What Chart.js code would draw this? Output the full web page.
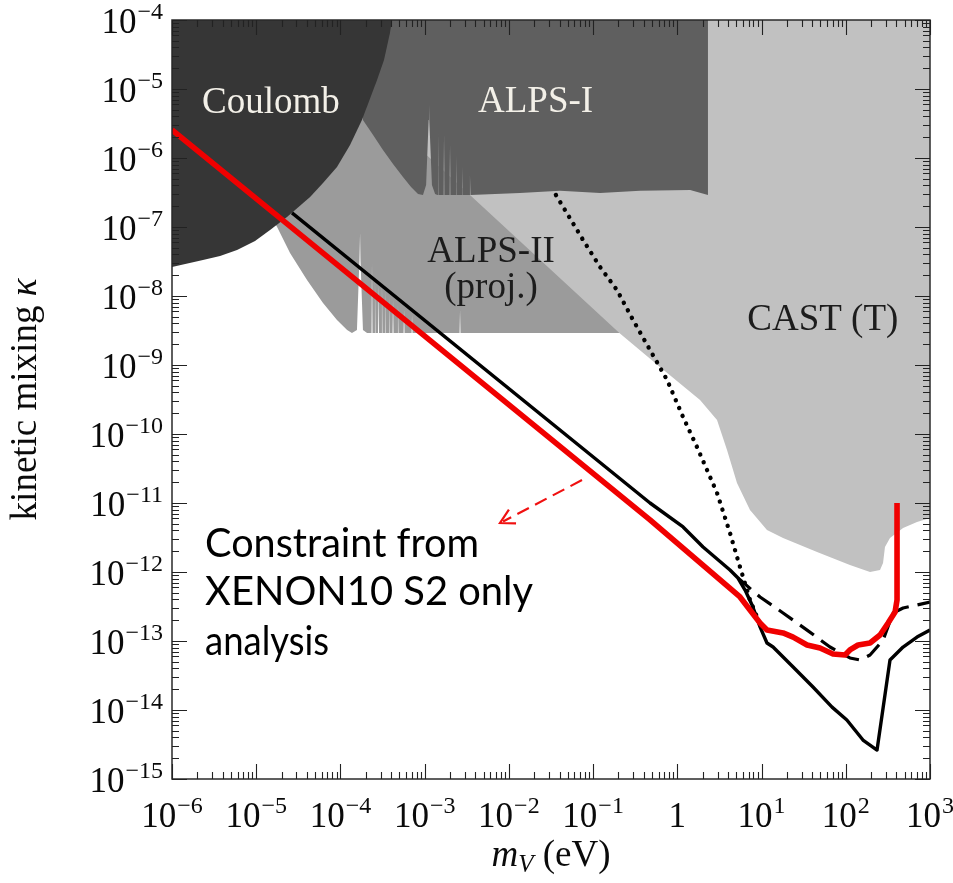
<!DOCTYPE html>
<html>
<head>
<meta charset="utf-8">
<script src="https://cdn.jsdelivr.net/npm/chart.js@4.4.1/dist/chart.umd.min.js"></script>
<style>
  html, body { margin: 0; padding: 0; background: #ffffff; }
  #wrap { width: 953px; height: 883px; }
</style>
</head>
<body>
<div id="wrap"><canvas id="c" width="953" height="883"></canvas></div>
<script>
// ---- axis ranges and tick labels ----
const massRange = [1e-6, 1e3];
const kappaRange = [1e-15, 1e-4];
const xTickValues = [1e-6, 1e-5, 1e-4, 1e-3, 1e-2, 1e-1, 1, 1e1, 1e2, 1e3];
const xTickLabels = ['10^−6', '10^−5', '10^−4', '10^−3', '10^−2', '10^−1', '1', '10^1', '10^2', '10^3'];
const yTickValues = [1e-15, 1e-14, 1e-13, 1e-12, 1e-11, 1e-10, 1e-9, 1e-8, 1e-7, 1e-6, 1e-5, 1e-4];
const yTickLabels = ['10^−15', '10^−14', '10^−13', '10^−12', '10^−11', '10^−10', '10^−9', '10^−8', '10^−7', '10^−6', '10^−5', '10^−4'];

// ---- excluded regions (closed outlines, m_V in eV, kappa) ----
const coulombMass  = [1e-6, 2.33e-6, 3.72e-6, 5.92e-6, 9.68e-6, 1.46e-5, 2.32e-5, 4.36e-5, 6.21e-5, 9.1e-5, 1.30e-4, 1.80e-4, 2.72e-4, 3.29e-4, 3.87e-4, 4.09e-4, 1e-6];
const coulombKappa = [2.63e-8, 3.33e-8, 3.80e-8, 4.65e-8, 6.27e-8, 9.06e-8, 1.40e-7, 2.72e-7, 4.35e-7, 7.41e-7, 1.54e-6, 3.56e-6, 1.35e-5, 2.63e-5, 6.49e-5, 1e-4, 1e-4];

const alps1Mass  = [1.71e-4, 1.85e-4, 2.44e-4, 3.20e-4, 4.21e-4, 5.53e-4, 6.89e-4, 8.34e-4, 9.55e-4, 1.04e-3, 1.115e-3, 1.125e-3, 1.135e-3, 1.22e-3, 1.33e-3,
                    1.419e-3, 1.439e-3, 1.459e-3, 1.675e-3, 1.698e-3, 1.721e-3, 1.973e-3, 2.0e-3, 2.028e-3, 2.323e-3, 2.355e-3, 2.388e-3,
                    2.735e-3, 2.773e-3, 2.811e-3, 3.403e-3, 3.45e-3, 3.498e-3, 1.35e-2, 4.05e-2, 0.121, 0.361, 1.42, 2.31, 2.31];
const alps1Kappa = [1e-4, 3.56e-6, 2.15e-6, 1.31e-6, 8.19e-7, 5.31e-7, 3.80e-7, 3.01e-7, 2.91e-7, 4.06e-7, 3.56e-6, 6.27e-6, 3.56e-6, 4.06e-7, 3.01e-7,
                    2.91e-7, 2.55e-6, 2.91e-7, 2.91e-7, 2.15e-6, 2.91e-7, 2.91e-7, 1.54e-6, 2.91e-7, 2.91e-7, 1.10e-6, 2.91e-7,
                    2.91e-7, 7.92e-7, 2.91e-7, 2.91e-7, 5.68e-7, 2.91e-7, 3.11e-7, 3.34e-7, 3.11e-7, 3.34e-7, 3.44e-7, 2.91e-7, 1e-4];

const alps2Mass  = [1.63e-5, 1.77e-5, 2.52e-5, 4.01e-5, 6.21e-5, 9.10e-5, 1.20e-4, 1.37e-4, 1.57e-4, 1.68e-4, 1.71e-4, 1.73e-4, 1.85e-4, 2.07e-4,
                    2.338e-4, 2.37e-4, 2.403e-4, 2.535e-4, 2.57e-4, 2.605e-4, 2.791e-4, 2.83e-4, 2.869e-4, 3.068e-4, 3.11e-4, 3.153e-4,
                    3.383e-4, 3.43e-4, 3.477e-4, 3.719e-4, 3.77e-4, 3.822e-4, 4.153e-4, 4.21e-4, 4.268e-4, 4.754e-4, 4.82e-4, 4.887e-4,
                    5.613e-4, 5.69e-4, 5.769e-4, 6.984e-4, 7.08e-4, 7.178e-4, 2.594e-3, 2.63e-3, 2.666e-3, 0.192, 0.361, 0.361, 3.31e-5];
const alps2Kappa = [1.18e-7, 1.0e-7, 4.20e-8, 1.71e-8, 7.93e-9, 4.49e-9, 3.21e-9, 2.91e-9, 3.21e-9, 3.33e-8, 8.18e-8, 3.33e-8, 3.21e-9, 2.91e-9,
                    2.91e-9, 3.01e-8, 2.91e-9, 2.91e-9, 1.71e-8, 2.91e-9, 2.91e-9, 1.44e-8, 2.91e-9, 2.91e-9, 1.54e-8, 2.91e-9,
                    2.91e-9, 1.22e-8, 2.91e-9, 2.91e-9, 1.03e-8, 2.91e-9, 2.91e-9, 8.75e-9, 2.91e-9, 2.91e-9, 7.41e-9, 2.91e-9,
                    2.91e-9, 6.27e-9, 2.91e-9, 2.91e-9, 5.31e-9, 2.91e-9, 2.91e-9, 6.27e-9, 2.91e-9, 2.91e-9, 2.91e-9, 6.93e-6, 6.93e-6];

const castMass  = [1.91e-5, 3.45e-3, 0.205, 0.622, 1.86, 2.96, 3.89, 5.11, 7.29, 11.6, 18.0, 45.6, 112, 194, 255, 277, 292, 335, 479, 701, 1000, 1000];
const castKappa = [1e-4, 2.91e-7, 2.91e-9, 9.35e-10, 3.11e-10, 1.60e-10, 5.86e-11, 1.95e-11, 7.92e-12, 4.06e-12, 3.11e-12, 1.95e-12, 1.26e-12, 1.0e-12, 1.07e-12, 1.35e-12, 2.30e-12, 3.11e-12, 4.34e-12, 5.31e-12, 6.07e-12, 1e-4];

// ---- limit curves ----
const xenonS2Mass  = [1e-6, 0.474, 5.55, 7.29, 9.59, 11.6, 18.0, 23.7, 34.7, 49.4, 70.6, 97.9, 112, 140, 194, 255, 318, 385, 406, 406];
const xenonS2Kappa = [2.55e-6, 5.68e-12, 4.35e-13, 2.81e-13, 1.82e-13, 1.44e-13, 1.31e-13, 1.14e-13, 8.75e-14, 7.93e-14, 6.49e-14, 6.27e-14, 7.41e-14, 8.75e-14, 9.35e-14, 1.22e-13, 1.82e-13, 2.63e-13, 3.93e-13, 1.0e-11];

const solidMass  = [2.66e-5, 0.474, 1.17, 2.02, 4.22, 5.25, 6.37, 7.71, 9.59, 11.6, 13.7, 23.7, 40.8, 68.7, 103, 160, 235, 335, 479, 701, 1000];
const solidKappa = [1.60e-7, 1.0e-11, 4.49e-12, 2.30e-12, 1.07e-12, 8.18e-13, 5.48e-13, 3.33e-13, 1.60e-13, 9.35e-14, 8.18e-14, 4.20e-14, 2.15e-14, 1.10e-14, 7.16e-15, 3.67e-15, 2.63e-15, 5.31e-14, 8.18e-14, 1.14e-13, 1.44e-13];

const dashedMass  = [5.25, 9.59, 18.0, 34.7, 65.0, 112, 148, 194, 277, 364, 479, 701, 1000];
const dashedKappa = [8.18e-13, 4.35e-13, 2.55e-13, 1.44e-13, 8.18e-14, 5.68e-14, 5.31e-14, 6.27e-14, 1.03e-13, 2.55e-13, 3.01e-13, 3.33e-13, 3.67e-13];

const dottedMass  = [3.62e-2, 7.59e-2, 0.121, 0.192, 0.298, 0.474, 0.755, 1.17, 1.71, 2.96, 4.22, 5.55, 7.29, 8.83];
const dottedKappa = [2.91e-7, 6.49e-8, 2.63e-8, 1.22e-8, 4.49e-9, 1.65e-9, 6.07e-10, 1.76e-10, 6.49e-11, 1.40e-11, 3.67e-12, 1.18e-12, 3.93e-13, 2.23e-13];

// ---- annotation arrow (tail, head) ----
const arrowMass  = [7.38e-2, 7.85e-3];
const arrowKappa = [2.15e-11, 5.13e-12];

// text labels placed at data coordinates
const regionLabels = [
  { text: 'Coulomb',  m: 2.27e-6, k: 4.49e-6, align: 'left',   color: '#f3f0e8' },
  { text: 'ALPS-I',   m: 4.30e-3, k: 4.65e-6, align: 'left',   color: '#f3f0e8' },
  { text: 'ALPS-II',  m: 6.14e-3, k: 3.11e-8, align: 'center', color: '#1c1c1c' },
  { text: '(proj.)',  m: 6.14e-3, k: 9.35e-9, align: 'center', color: '#1c1c1c' },
  { text: 'CAST (T)', m: 53.3,    k: 3.21e-9, align: 'center', color: '#1c1c1c' }
];
const noteLines = ['Constraint from', 'XENON10 S2 only', 'analysis'];
const noteAnchor = { m: 2.47e-6, k: [1.65e-12, 3.33e-13, 6.27e-14] };

const SERIF = '"Liberation Serif", "Times New Roman", serif';

function pts(ms, ks) { return ms.map((m, i) => ({ x: m, y: ks[i] })); }

function region(label, ms, ks, color, order) {
  return { label, data: pts(ms, ks), fill: 'shape', backgroundColor: color,
           borderColor: 'rgba(0,0,0,0)', borderWidth: 0, pointRadius: 0, order, tension: 0 };
}
function curve(label, ms, ks, color, width, order, extra) {
  return Object.assign({ label, data: pts(ms, ks), fill: false, borderColor: color,
           borderWidth: width, pointRadius: 0, order, tension: 0, borderJoinStyle: 'round' }, extra || {});
}

function drawPow(ctx, label, x, y, align, baseSize, expSize, lift) {
  const parts = label.split('^');
  ctx.font = baseSize + 'px ' + SERIF;
  const wb = ctx.measureText(parts[0]).width;
  let we = 0;
  if (parts[1]) { ctx.font = expSize + 'px ' + SERIF; we = ctx.measureText(parts[1]).width + 1; }
  const total = wb + we;
  const x0 = align === 'center' ? x - total / 2 : x - total;
  ctx.textAlign = 'left';
  ctx.textBaseline = 'alphabetic';
  ctx.font = baseSize + 'px ' + SERIF;
  ctx.fillText(parts[0], x0, y);
  if (parts[1]) { ctx.font = expSize + 'px ' + SERIF; ctx.fillText(parts[1], x0 + wb + 1, y - lift); }
}

const decorations = {
  id: 'decorations',
  afterDatasetsDraw(chart) {
    const ctx = chart.ctx, a = chart.chartArea;
    const xs = chart.scales.x, ys = chart.scales.y;
    ctx.save();

    // region names
    regionLabels.forEach(l => {
      ctx.font = '37px ' + SERIF;
      ctx.fillStyle = l.color;
      ctx.textAlign = l.align;
      ctx.textBaseline = 'alphabetic';
      ctx.fillText(l.text, xs.getPixelForValue(l.m), ys.getPixelForValue(l.k));
    });

    // note text
    ctx.fillStyle = '#000';
    ctx.textAlign = 'left';
    ctx.font = '40px Lato, "Open Sans", sans-serif';
    const noteWidths = [274, 328, 124];
    noteLines.forEach((t, i) => {
      ctx.fillText(t, xs.getPixelForValue(noteAnchor.m), ys.getPixelForValue(noteAnchor.k[i]), noteWidths[i]);
    });

    // dashed arrow
    const x1 = xs.getPixelForValue(arrowMass[0]), y1 = ys.getPixelForValue(arrowKappa[0]);
    const x2 = xs.getPixelForValue(arrowMass[1]), y2 = ys.getPixelForValue(arrowKappa[1]);
    ctx.strokeStyle = '#f01010';
    ctx.lineWidth = 2.2;
    ctx.setLineDash([13, 7]);
    ctx.beginPath(); ctx.moveTo(x1, y1); ctx.lineTo(x2 + 3, y2 - 1.5); ctx.stroke();
    ctx.setLineDash([]);
    const ang = Math.atan2(y2 - y1, x2 - x1);
    ctx.beginPath();
    ctx.moveTo(x2 - 16 * Math.cos(ang - 0.5), y2 - 16 * Math.sin(ang - 0.5));
    ctx.lineTo(x2, y2);
    ctx.lineTo(x2 - 16 * Math.cos(ang + 0.5), y2 - 16 * Math.sin(ang + 0.5));
    ctx.stroke();

    // frame
    ctx.strokeStyle = '#2a2a2a';
    ctx.lineWidth = 1.5;
    ctx.strokeRect(a.left, a.top, a.right - a.left, a.bottom - a.top);

    // inward ticks on all four sides
    ctx.lineWidth = 1.1;
    ctx.strokeStyle = '#222';
    ctx.beginPath();
    const xd0 = Math.round(Math.log10(xs.min)), xd1 = Math.round(Math.log10(xs.max));
    for (let d = xd0; d <= xd1; d++) {
      for (let k = 1; k <= 9; k++) {
        const v = k * Math.pow(10, d);
        if (v > xs.max * 1.0001) break;
        const p = Math.round(xs.getPixelForValue(v)) + 0.5;
        const len = k === 1 ? 15 : 7;
        ctx.moveTo(p, a.bottom); ctx.lineTo(p, a.bottom - len);
        ctx.moveTo(p, a.top); ctx.lineTo(p, a.top + len);
      }
    }
    const yd0 = Math.round(Math.log10(ys.min)), yd1 = Math.round(Math.log10(ys.max));
    for (let d = yd0; d <= yd1; d++) {
      for (let k = 1; k <= 9; k++) {
        const v = k * Math.pow(10, d);
        if (v > ys.max * 1.0001) break;
        const p = Math.round(ys.getPixelForValue(v)) + 0.5;
        const len = k === 1 ? 15 : 7;
        ctx.moveTo(a.left, p); ctx.lineTo(a.left + len, p);
        ctx.moveTo(a.right, p); ctx.lineTo(a.right - len, p);
      }
    }
    ctx.stroke();

    // tick labels
    ctx.fillStyle = '#0a0a0a';
    xTickValues.forEach((v, i) => {
      drawPow(ctx, xTickLabels[i], xs.getPixelForValue(v), a.bottom + 48, 'center', 35, 24, 14);
    });
    yTickValues.forEach((v, i) => {
      drawPow(ctx, yTickLabels[i], a.left - 9, ys.getPixelForValue(v) + 13, 'right', 35, 24, 14);
    });

    // axis titles
    ctx.fillStyle = '#0a0a0a';
    ctx.textBaseline = 'alphabetic';
    // x title: m_V (eV)
    const fM = 'italic 37px ' + SERIF, fSub = 'italic 25px ' + SERIF, fR = '37px ' + SERIF;
    ctx.font = fM; const wm = ctx.measureText('m').width;
    ctx.font = fSub; const wv = ctx.measureText('V').width;
    ctx.font = fR; const we = ctx.measureText(' (eV)').width;
    let tx = (a.left + a.right) / 2 - (wm + wv + we) / 2;
    const tb = a.bottom + 87;
    ctx.textAlign = 'left';
    ctx.font = fM; ctx.fillText('m', tx, tb); tx += wm;
    ctx.font = fSub; ctx.fillText('V', tx, tb + 6); tx += wv;
    ctx.font = fR; ctx.fillText(' (eV)', tx, tb);

    // y title: kinetic mixing kappa
    ctx.save();
    ctx.translate(36, (a.top + a.bottom) / 2);
    ctx.rotate(-Math.PI / 2);
    ctx.font = '37px ' + SERIF; const w1 = ctx.measureText('kinetic mixing ').width;
    ctx.font = 'italic 37px ' + SERIF; const w2 = ctx.measureText('κ').width;
    let ty = -(w1 + w2) / 2;
    ctx.font = '37px ' + SERIF; ctx.fillText('kinetic mixing ', ty, 0); ty += w1;
    ctx.font = 'italic 37px ' + SERIF; ctx.fillText('κ', ty, 0);
    ctx.restore();

    ctx.restore();
  }
};

new Chart(document.getElementById('c'), {
  type: 'line',
  data: {
    datasets: [
      curve('XENON10 S2 only', xenonS2Mass, xenonS2Kappa, '#f00000', 5.6, 0),
      curve('solid limit', solidMass, solidKappa, '#000000', 3.4, 1),
      curve('dashed limit', dashedMass, dashedKappa, '#000000', 3.2, 2, { borderDash: [17, 9] }),
      curve('dotted limit', dottedMass, dottedKappa, '#000000', 4.4, 3, { borderDash: [0.1, 8.4], borderCapStyle: 'round' }),
      region('Coulomb', coulombMass, coulombKappa, '#363636', 4),
      region('ALPS-I', alps1Mass, alps1Kappa, '#5f5f5f', 5),
      region('CAST (T)', castMass, castKappa, '#c1c1c1', 6),
      region('ALPS-II (proj.)', alps2Mass, alps2Kappa, '#9b9b9b', 7)
    ]
  },
  options: {
    responsive: false,
    animation: false,
    devicePixelRatio: 1,
    events: [],
    layout: { padding: { left: 172, right: 23, top: 20, bottom: 104 } },
    plugins: { legend: { display: false }, tooltip: { enabled: false } },
    scales: {
      x: { type: 'logarithmic', min: massRange[0], max: massRange[1], display: false },
      y: { type: 'logarithmic', min: kappaRange[0], max: kappaRange[1], display: false }
    }
  },
  plugins: [decorations]
});
</script>
</body>
</html>
